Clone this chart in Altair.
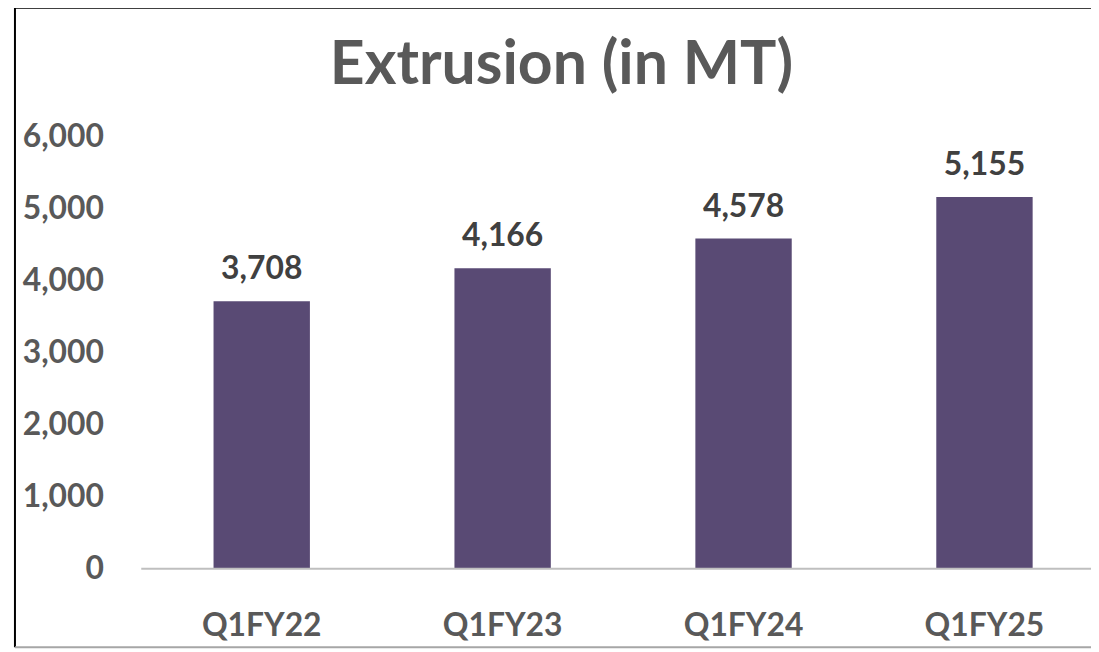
import altair as alt
import pandas as pd

categories = ["Q1FY22", "Q1FY23", "Q1FY24", "Q1FY25"]
values = [3708, 4166, 4578, 5155]

df = pd.DataFrame({"quarter": categories, "mt": values})
frame_df = pd.DataFrame({"k": [0]})

FONT = "Lato"
GRAY = "#595959"
W = 955

base = alt.Chart(df)

bars = base.mark_bar(color="#594A74").encode(
    x=alt.X(
        "quarter:N",
        sort=categories,
        title=None,
        scale=alt.Scale(paddingInner=0.6, paddingOuter=0.3, range=[0, 969]),
        axis=alt.Axis(
            labelAngle=0,
            labelFont=FONT,
            labelFontSize=32,
            labelFontWeight="bold",
            labelColor=GRAY,
            labelPadding=42,
            ticks=False,
            domain=False,
            grid=False,
        ),
    ),
    y=alt.Y(
        "mt:Q",
        title=None,
        scale=alt.Scale(domain=[0, 6000], nice=False),
        axis=alt.Axis(
            values=[0, 1000, 2000, 3000, 4000, 5000, 6000],
            format=",.0f",
            labelFont=FONT,
            labelFontSize=32,
            labelFontWeight="bold",
            labelColor=GRAY,
            labelPadding=38,
            ticks=False,
            domain=False,
            grid=False,
        ),
    ),
)

labels = base.mark_text(
    font=FONT, fontSize=32, fontWeight="bold", color="#404040",
    baseline="alphabetic", dy=-22,
).encode(
    x=alt.X("quarter:N", sort=categories),
    y=alt.Y("mt:Q"),
    text=alt.Text("mt:Q", format=",.0f"),
)

frame = alt.Chart(frame_df)
baseline_rule = frame.mark_rule(color="#BFBFBF", strokeWidth=2).encode(
    x=alt.value(0), x2=alt.value(W), y=alt.value(435)
)
left_border = frame.mark_rule(color="#000000", strokeWidth=2).encode(
    x=alt.value(-127), y=alt.value(-129), y2=alt.value(514)
)
top_border = frame.mark_rule(color="#000000", strokeWidth=2).encode(
    x=alt.value(-128), x2=alt.value(W), y=alt.value(-129)
)
bottom_border = frame.mark_rule(color="#A6A6A6", strokeWidth=2).encode(
    x=alt.value(-127), x2=alt.value(W), y=alt.value(514)
)

chart = alt.layer(
    bars, baseline_rule, labels, left_border, top_border, bottom_border
).properties(
    width=W,
    height=435,
    padding={"left": 134, "top": 127, "right": 0, "bottom": 80},
    autosize=alt.AutoSizeParams(type="none"),
    title=alt.TitleParams(
        "Extrusion (in MT)",
        font=FONT,
        fontSize=61,
        fontWeight="bold",
        color=GRAY,
        anchor="middle",
        frame="group",
        dx=-55,
        baseline="alphabetic",
        offset=-139,
    ),
).configure_view(stroke=None)

chart.save("out.html", embed_options={"renderer": "svg", "actions": False})
